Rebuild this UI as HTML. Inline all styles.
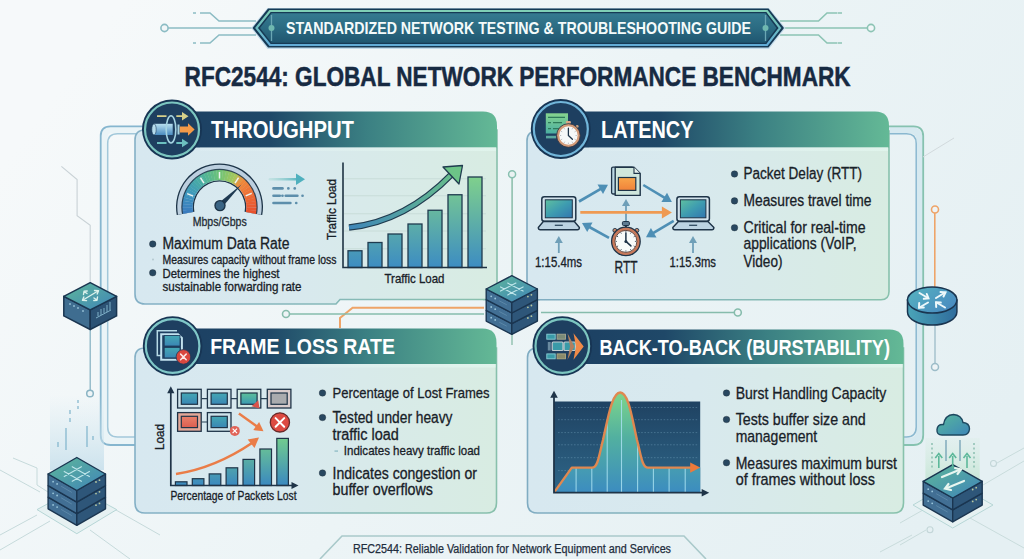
<!DOCTYPE html>
<html><head><meta charset="utf-8">
<style>
html,body{margin:0;padding:0;width:1024px;height:559px;overflow:hidden;background:#eaf1f5;}
svg{display:block;}
text{font-family:"Liberation Sans",sans-serif;}
</style></head>
<body>
<svg width="1024" height="559" viewBox="0 0 1024 559">
<defs>
  <linearGradient id="bgG" x1="0" y1="0.3" x2="1" y2="0.7">
    <stop offset="0" stop-color="#f6f9fa"/>
    <stop offset="0.5" stop-color="#ecf4f6"/>
    <stop offset="1" stop-color="#e5f0f3"/>
  </linearGradient>
  <linearGradient id="hdrG" x1="0" y1="0" x2="1" y2="0">
    <stop offset="0" stop-color="#1c3f62"/>
    <stop offset="0.3" stop-color="#1f4868"/>
    <stop offset="0.6" stop-color="#3b8083"/>
    <stop offset="1" stop-color="#64b996"/>
  </linearGradient>
  <linearGradient id="panelG" x1="0" y1="0" x2="1" y2="0">
    <stop offset="0" stop-color="#d7e8f0"/>
    <stop offset="0.45" stop-color="#d8e9ee"/>
    <stop offset="1" stop-color="#d8ece2"/>
  </linearGradient>
  <linearGradient id="banG" x1="0" y1="0" x2="0" y2="1">
    <stop offset="0" stop-color="#357a90"/>
    <stop offset="0.5" stop-color="#2b6b82"/>
    <stop offset="1" stop-color="#1f5670"/>
  </linearGradient>
  <linearGradient id="spdG" gradientUnits="userSpaceOnUse" x1="270" y1="0" x2="300" y2="0">
    <stop offset="0" stop-color="#8fd0c8" stop-opacity="0.3"/>
    <stop offset="1" stop-color="#4fb0be"/>
  </linearGradient>
  <linearGradient id="arrG" gradientUnits="userSpaceOnUse" x1="349" y1="227" x2="462" y2="166">
    <stop offset="0" stop-color="#3f86b8"/>
    <stop offset="1" stop-color="#6cc487"/>
  </linearGradient>
  <linearGradient id="scrG" x1="0" y1="0" x2="1" y2="1">
    <stop offset="0" stop-color="#5fc0a0"/>
    <stop offset="0.5" stop-color="#3e9cb0"/>
    <stop offset="1" stop-color="#3276b0"/>
  </linearGradient>
  <linearGradient id="orG" x1="0" y1="0" x2="0" y2="1">
    <stop offset="0" stop-color="#f9a64a"/>
    <stop offset="1" stop-color="#f0823a"/>
  </linearGradient>
  <linearGradient id="pkG" x1="0" y1="0" x2="0" y2="1">
    <stop offset="0" stop-color="#44a8b4"/>
    <stop offset="1" stop-color="#3a86b4"/>
  </linearGradient>
  <linearGradient id="pkG3" x1="0" y1="0" x2="0" y2="1">
    <stop offset="0" stop-color="#5cc09a"/>
    <stop offset="1" stop-color="#3a98b0"/>
  </linearGradient>
  <linearGradient id="pkR" x1="0" y1="0" x2="0" y2="1">
    <stop offset="0" stop-color="#e8806a"/>
    <stop offset="1" stop-color="#dc5e50"/>
  </linearGradient>
  <linearGradient id="barG2" gradientUnits="userSpaceOnUse" x1="0" y1="438" x2="0" y2="486">
    <stop offset="0" stop-color="#72cc8e"/>
    <stop offset="1" stop-color="#3a88c0"/>
  </linearGradient>
  <linearGradient id="bbBg" x1="0" y1="0" x2="0" y2="1">
    <stop offset="0" stop-color="#1f4262"/>
    <stop offset="1" stop-color="#2e6688"/>
  </linearGradient>
  <linearGradient id="bbFill" gradientUnits="userSpaceOnUse" x1="0" y1="392" x2="0" y2="493">
    <stop offset="0" stop-color="#7ed68a"/>
    <stop offset="0.45" stop-color="#52b0a0"/>
    <stop offset="1" stop-color="#3c8cc0"/>
  </linearGradient>
  <clipPath id="bbClip"><path d="M554.7 491.6 L571.8 467.6 H592 C598 467.6 599 455 603 440 C608 418 612 392.5 620.2 392.5 C628.5 392.5 632 418 637 440 C641 455 642 467.6 648 467.6 H700.2 V492.7 H554 Z"/></clipPath>
  <linearGradient id="isoTop" x1="0" y1="0" x2="1" y2="1">
    <stop offset="0" stop-color="#5eb89a"/>
    <stop offset="1" stop-color="#3f84b8"/>
  </linearGradient>
  <linearGradient id="glowB" x1="0" y1="0" x2="0" y2="1">
    <stop offset="0" stop-color="#d4e8f0" stop-opacity="0"/>
    <stop offset="1" stop-color="#c8e0ec" stop-opacity="0.9"/>
  </linearGradient>
  <linearGradient id="glowG" x1="0" y1="0" x2="0" y2="1">
    <stop offset="0" stop-color="#d4ecde" stop-opacity="0.2"/>
    <stop offset="1" stop-color="#c2e4d2" stop-opacity="0.9"/>
  </linearGradient>
  <linearGradient id="cloudG" x1="0" y1="0" x2="1" y2="1">
    <stop offset="0" stop-color="#58b89c"/>
    <stop offset="1" stop-color="#3d86b8"/>
  </linearGradient>
  <linearGradient id="rtTop" x1="0" y1="0" x2="1" y2="0.6">
    <stop offset="0" stop-color="#56b4c0"/>
    <stop offset="1" stop-color="#4a8cc0"/>
  </linearGradient>
  <linearGradient id="rtSide" x1="0" y1="0" x2="1" y2="0">
    <stop offset="0" stop-color="#4aa4b8"/>
    <stop offset="1" stop-color="#2f6c9c"/>
  </linearGradient>
  <linearGradient id="pipeG" x1="0" y1="0" x2="0" y2="1">
    <stop offset="0" stop-color="#b8e0f0"/>
    <stop offset="1" stop-color="#4a8cc0"/>
  </linearGradient>
  <linearGradient id="docG" x1="0" y1="0" x2="0" y2="1">
    <stop offset="0" stop-color="#86d48e"/>
    <stop offset="1" stop-color="#4aaea2"/>
  </linearGradient>
  <linearGradient id="pbG1" gradientUnits="userSpaceOnUse" x1="135" y1="0" x2="497" y2="0">
    <stop offset="0" stop-color="#84b0c6"/>
    <stop offset="1" stop-color="#88c0ac"/>
  </linearGradient>
  <linearGradient id="pbG2" gradientUnits="userSpaceOnUse" x1="527" y1="0" x2="903" y2="0">
    <stop offset="0" stop-color="#80acc2"/>
    <stop offset="1" stop-color="#88c2ac"/>
  </linearGradient>
  <linearGradient id="banS" gradientUnits="userSpaceOnUse" x1="0" y1="11" x2="0" y2="44">
    <stop offset="0" stop-color="#80d0b6"/>
    <stop offset="0.5" stop-color="#6cbcc0"/>
    <stop offset="1" stop-color="#62acd6"/>
  </linearGradient>
  <linearGradient id="stripG" x1="0" y1="0" x2="1" y2="0">
    <stop offset="0" stop-color="#e2f0f4" stop-opacity="0.3"/>
    <stop offset="1" stop-color="#e0f4ec" stop-opacity="0.95"/>
  </linearGradient>
  <linearGradient id="barG" gradientUnits="userSpaceOnUse" x1="0" y1="177" x2="0" y2="267">
    <stop offset="0" stop-color="#7fd08c"/>
    <stop offset="1" stop-color="#3d8dc2"/>
  </linearGradient>
</defs>

<!-- background -->
<rect x="0" y="0" width="1024" height="559" fill="url(#bgG)"/>
<!--LINES-->
<g id="lines" fill="none">
<path d="M143 130 H110 Q104.2 130 104.2 140 V431 Q104.2 441 114 441 H135" stroke="#eaf4f7" stroke-width="6.5"/>
<path d="M143 126.3 H110.5 Q100.7 126.3 100.7 136 V435 Q100.7 445 110.5 445 H135" stroke="#86b6cf" stroke-width="1.8"/>
<path d="M143 133.8 H117.5 Q107.7 133.8 107.7 143.5 V427 Q107.7 437 117.5 437 H135" stroke="#a2c8da" stroke-width="1.5"/>
<path d="M888 130 H909.5 Q919.6 130 919.6 140 V431 Q919.6 441 909.5 441 H903" stroke="#d6e9f0" stroke-width="6.5"/>
<path d="M888 126.3 H913.5 Q923.2 126.3 923.2 136 V435 Q923.2 445 913.5 445 H903" stroke="#86c2b0" stroke-width="1.8"/>
<path d="M888 133.8 H906.5 Q916.2 133.8 916.2 143.5 V427 Q916.2 437 906.5 437 H903" stroke="#8ab8d0" stroke-width="1.5"/>
<path d="M61.4 166.3 L77.1 179.6 V215.7 L90.2 225.2 V283" stroke="#c9d2d6" stroke-width="1.1"/>
<path d="M90.2 329 V390" stroke="#8ab4c4" stroke-width="1.3"/>
<circle cx="90" cy="393.5" r="3.3" stroke="#8ab4c4" stroke-width="1.5" fill="#eef4f6"/>
<path d="M512.1 178 V276" stroke="#88bca8" stroke-width="1.5"/>
<circle cx="512.1" cy="174.3" r="3.5" stroke="#88c0b0" stroke-width="1.5" fill="#eaf2f2"/>
<path d="M512 334 V345" stroke="#88bca8" stroke-width="1.3"/>
<path d="M340 328 V318 L352.6 307.8 H484" stroke="#eea468" stroke-width="2"/>
<path d="M289.5 314 H484" stroke="#86bcac" stroke-width="1.6"/>
<circle cx="286" cy="314" r="3.5" stroke="#86bcac" stroke-width="1.6" fill="#eef4f6"/>
<path d="M541 312.5 H734" stroke="#86bcac" stroke-width="1.6"/>
<circle cx="737.8" cy="312.5" r="3.5" stroke="#86bcac" stroke-width="1.6" fill="#eef4f6"/>
<path d="M483 299.4 H497 M527 299.4 H540" stroke="#86b5c3" stroke-width="1.6"/>
<path d="M934.8 213 V290" stroke="#eea468" stroke-width="1.6"/>
<circle cx="935" cy="209.5" r="3.5" stroke="#eea468" stroke-width="1.6" fill="#eef4f6"/>
<path d="M935 322 V363.5" stroke="#9cbcc8" stroke-width="1.3"/>
<circle cx="935" cy="367" r="3.5" stroke="#9cbcc8" stroke-width="1.5" fill="#eef4f6"/>
<path d="M923 157 L954 138" stroke="#d2dadd" stroke-width="1"/>
<g stroke="#c6dadb" stroke-width="1"><path d="M0 470 L40 492"/><path d="M13 458 L37 468 V485 L48 492"/><path d="M0 550 L50 521"/><path d="M0 535 L37 515"/><path d="M116 510 L160 535"/><path d="M90 530 L130 559"/></g>
<g stroke="#c9dcdc" stroke-width="1"><path d="M983 485 L1024 461"/><path d="M997 463 L1024 448"/><path d="M900 523 L923 510"/><path d="M900 545 L926 530"/><path d="M970 518 L1024 548"/><path d="M880 552 L912 535"/></g>
<circle cx="993.5" cy="463.5" r="3" stroke="#c3d6d8" stroke-width="1.1" fill="none"/>
<circle cx="930" cy="529.8" r="3" stroke="#c3d6d8" stroke-width="1.1" fill="none"/>
</g>

<!--/LINES-->

<!-- ===== top banner ===== -->
<g id="banner">
  <path d="M164.5 28 H253 M193 13 H196 M200 13 H210 L219 21 H256 M193 43 H196 M200 43 H210 L219 35 H256" stroke="#8cbcc4" stroke-width="1.6" fill="none"/>
  <circle cx="164.5" cy="28" r="3.6" fill="#f2f6f8" stroke="#8cbcc4" stroke-width="1.6"/>
  <path d="M871 28 H783 M842 13 H838 M837.5 13 H827 L818.5 21 H780 M842 43 H838 M837.5 43 H827 L818.5 35 H780" stroke="#8cc4b4" stroke-width="1.6" fill="none"/>
  <circle cx="871" cy="28" r="3.6" fill="#f2f6f8" stroke="#8cc4b4" stroke-width="1.6"/>
  <path d="M251 28 L267.5 8 H769 L785.5 28 L769 49 H267.5 Z" fill="#c4dceb"/>
  <path d="M252.5 28 L268 8.5 H768.5 L784 28 L768.5 47.5 H268 Z" fill="#163a55"/>
  <path d="M256.5 28 L270 11 H767 L780 28 L767 45 H270 Z" fill="none" stroke="url(#banS)" stroke-width="2.2"/>
  <path d="M260 28 L271.5 13.2 H765.5 L776.5 28 L765.5 42.8 H271.5 Z" fill="url(#banG)"/>
  <line x1="271.5" y1="15" x2="271.5" y2="41" stroke="#6aa6b4" stroke-width="1.3"/>
  <circle cx="271.5" cy="28" r="3" fill="#6fb8b0"/>
  <line x1="765.5" y1="15" x2="765.5" y2="41" stroke="#6aa6b4" stroke-width="1.3"/>
  <circle cx="765.5" cy="28" r="3" fill="#6fb8b0"/>
  <text x="286" y="33.6" font-size="16.3" font-weight="bold" fill="#f4fbfb" textLength="465" lengthAdjust="spacingAndGlyphs">STANDARDIZED NETWORK TESTING &amp; TROUBLESHOOTING GUIDE</text>
</g>

<!-- title -->
<text x="184.6" y="85.5" font-size="27" font-weight="bold" fill="#172a42" stroke="#172a42" stroke-width="0.5" textLength="666" lengthAdjust="spacingAndGlyphs">RFC2544: GLOBAL NETWORK PERFORMANCE BENCHMARK</text>

<!-- ===== panels ===== -->
<g id="panels">
  <!-- throughput -->
  <path d="M145 130 H497 V291.5 Q497 299.5 489 299.5 H340 L336 304 H145 Q135 304 135 294 V140 Q135 130 145 130 Z" fill="url(#panelG)" stroke="url(#pbG1)" stroke-width="1.6"/>
  <path d="M172 111.5 H483 Q497 111.5 497 125.5 V147.5 H172 Z" fill="url(#hdrG)"/>
  <!-- latency -->
  <path d="M537 131 H889 V291.5 Q889 299.7 881 299.7 H537 Q527 299.7 527 289.7 V141 Q527 131 537 131 Z" fill="url(#panelG)" stroke="url(#pbG2)" stroke-width="1.6"/>
  <path d="M561 111.5 H875 Q889 111.5 889 125.5 V147.5 H561 Z" fill="url(#hdrG)"/>
  <!-- frame loss -->
  <path d="M145 348 H496.5 V503 Q496.5 513 486.5 513 H145 Q135 513 135 503 V358 Q135 348 145 348 Z" fill="url(#panelG)" stroke="url(#pbG1)" stroke-width="1.6"/>
  <path d="M172 328.5 H482.5 Q496.5 328.5 496.5 342.5 V364 H172 Z" fill="url(#hdrG)"/>
  <!-- back to back -->
  <path d="M537.5 348 H903.5 V503 Q903.5 513 893.5 513 H537.5 Q527.5 513 527.5 503 V358 Q527.5 348 537.5 348 Z" fill="url(#panelG)" stroke="url(#pbG2)" stroke-width="1.6"/>
  <path d="M562 329.5 H889.5 Q903.5 329.5 903.5 343.5 V364 H562 Z" fill="url(#hdrG)"/>
  <rect x="200" y="147.5" width="296" height="3.5" fill="url(#stripG)"/>
  <rect x="589" y="147.5" width="299" height="3.5" fill="url(#stripG)"/>
  <rect x="200" y="364" width="295.5" height="3.5" fill="url(#stripG)"/>
  <rect x="590" y="364" width="312.5" height="3.5" fill="url(#stripG)"/>
</g>

<!--DEV-->
<g id="devices">
<path d="M63.800000000000004 296.3 L90.2 309.9 L90.2 329.5 L63.800000000000004 315.90000000000003 Z" fill="#3f6d90" stroke="#1a3550" stroke-width="1.5" stroke-linejoin="round"/>
<path d="M116.6 296.3 L90.2 309.9 L90.2 329.5 L116.6 315.90000000000003 Z" fill="#2c5274" stroke="#1a3550" stroke-width="1.5" stroke-linejoin="round"/>
<path d="M90.2 282.7 L116.6 296.3 L90.2 309.9 L63.800000000000004 296.3 Z" fill="url(#isoTop)" stroke="#1a3550" stroke-width="1.5" stroke-linejoin="round"/>
<g stroke="#dcf2ec" stroke-width="1.4" fill="none" stroke-linecap="round" stroke-linejoin="round"><path d="M83 300 L98 291"/><path d="M94.5 290.5 L98.5 290.8 L97.2 294"/><path d="M86.5 300.6 L82.5 300.2 L83.8 297"/><path d="M84 291.5 L87 293.5 M83.5 294.5 L84 291.3 L87.2 291"/><path d="M97 300 L94 298 M97.5 297 L97 300.2 L93.8 300.5"/></g>
<g fill="#8fbad0"><circle cx="70" cy="304" r="1"/><circle cx="74" cy="306" r="1"/><circle cx="78" cy="308" r="1"/><circle cx="83" cy="311" r="1"/></g>
<g stroke="#7fb0c8" stroke-width="1"><path d="M96 318 L111 310"/><path d="M98 316 V312 M101 315 V309 M104 313 V308 M107 312 V305 M110 310 V302"/></g>
<path d="M486.2 310.4 L511.8 323.7 L511.8 334.4 L486.2 321.1 Z" fill="#426f94" stroke="#1a3550" stroke-width="1.4" stroke-linejoin="round"/>
<path d="M537.4 310.4 L511.8 323.7 L511.8 334.4 L537.4 321.1 Z" fill="#2e5679" stroke="#1a3550" stroke-width="1.4" stroke-linejoin="round"/>
<circle cx="491.2" cy="317.7" r="0.9" fill="#9cc8dc"/><circle cx="495.2" cy="319.9" r="0.9" fill="#9cc8dc"/>
<line x1="499.2" y1="322.2" x2="506.8" y2="326.2" stroke="#6f9ab8" stroke-width="0.8" opacity="0.7"/>
<circle cx="531.4" cy="316.2" r="0.9" fill="#b8c8a0"/><circle cx="527.9" cy="318.0" r="0.9" fill="#b8c8a0"/>
<path d="M486.2 299.7 L511.8 313.0 L511.8 323.7 L486.2 310.4 Z" fill="#426f94" stroke="#1a3550" stroke-width="1.4" stroke-linejoin="round"/>
<path d="M537.4 299.7 L511.8 313.0 L511.8 323.7 L537.4 310.4 Z" fill="#2e5679" stroke="#1a3550" stroke-width="1.4" stroke-linejoin="round"/>
<circle cx="491.2" cy="307.0" r="0.9" fill="#9cc8dc"/><circle cx="495.2" cy="309.2" r="0.9" fill="#9cc8dc"/>
<line x1="499.2" y1="311.5" x2="506.8" y2="315.5" stroke="#6f9ab8" stroke-width="0.8" opacity="0.7"/>
<circle cx="531.4" cy="305.5" r="0.9" fill="#b8c8a0"/><circle cx="527.9" cy="307.3" r="0.9" fill="#b8c8a0"/>
<path d="M486.2 289.0 L511.8 302.3 L511.8 313.0 L486.2 299.7 Z" fill="#426f94" stroke="#1a3550" stroke-width="1.4" stroke-linejoin="round"/>
<path d="M537.4 289.0 L511.8 302.3 L511.8 313.0 L537.4 299.7 Z" fill="#2e5679" stroke="#1a3550" stroke-width="1.4" stroke-linejoin="round"/>
<circle cx="491.2" cy="296.3" r="0.9" fill="#9cc8dc"/><circle cx="495.2" cy="298.5" r="0.9" fill="#9cc8dc"/>
<line x1="499.2" y1="300.8" x2="506.8" y2="304.8" stroke="#6f9ab8" stroke-width="0.8" opacity="0.7"/>
<circle cx="531.4" cy="294.8" r="0.9" fill="#b8c8a0"/><circle cx="527.9" cy="296.6" r="0.9" fill="#b8c8a0"/>
<path d="M511.8 275.7 L537.4 289.0 L511.8 302.3 L486.2 289.0 Z" fill="url(#isoTop)" stroke="#1a3550" stroke-width="1.4" stroke-linejoin="round"/>
<path d="M515.9 283.1 L500.5 291.1 M507.7 283.1 L523.1 291.1 M523.1 286.9 L507.7 294.9 M500.5 286.9 L515.9 294.9" stroke="#bfe6ea" stroke-width="1.1" stroke-linecap="round" fill="none"/>
<rect x="50" y="395" width="54" height="75" fill="url(#glowB)"/>
<path d="M37 509.6 L76.8 488 L116.7 509.6 L76.8 533.7 Z" fill="#e6f1f2" stroke="#b6d6d6" stroke-width="1"/>
<path d="M48.1 497.2 L76.8 513.7 L76.8 525.3 L48.1 508.8 Z" fill="#426f94" stroke="#1a3550" stroke-width="1.4" stroke-linejoin="round"/>
<path d="M105.5 497.2 L76.8 513.7 L76.8 525.3 L105.5 508.8 Z" fill="#2e5679" stroke="#1a3550" stroke-width="1.4" stroke-linejoin="round"/>
<circle cx="53.1" cy="504.9" r="0.9" fill="#9cc8dc"/><circle cx="57.1" cy="507.1" r="0.9" fill="#9cc8dc"/>
<line x1="61.1" y1="509.4" x2="71.8" y2="515.6" stroke="#6f9ab8" stroke-width="0.8" opacity="0.7"/>
<circle cx="99.5" cy="503.4" r="0.9" fill="#b8c8a0"/><circle cx="96.0" cy="505.2" r="0.9" fill="#b8c8a0"/>
<path d="M48.1 485.6 L76.8 502.1 L76.8 513.7 L48.1 497.2 Z" fill="#426f94" stroke="#1a3550" stroke-width="1.4" stroke-linejoin="round"/>
<path d="M105.5 485.6 L76.8 502.1 L76.8 513.7 L105.5 497.2 Z" fill="#2e5679" stroke="#1a3550" stroke-width="1.4" stroke-linejoin="round"/>
<circle cx="53.1" cy="493.3" r="0.9" fill="#9cc8dc"/><circle cx="57.1" cy="495.5" r="0.9" fill="#9cc8dc"/>
<line x1="61.1" y1="497.8" x2="71.8" y2="504.0" stroke="#6f9ab8" stroke-width="0.8" opacity="0.7"/>
<circle cx="99.5" cy="491.8" r="0.9" fill="#b8c8a0"/><circle cx="96.0" cy="493.6" r="0.9" fill="#b8c8a0"/>
<path d="M48.1 474.0 L76.8 490.5 L76.8 502.1 L48.1 485.6 Z" fill="#426f94" stroke="#1a3550" stroke-width="1.4" stroke-linejoin="round"/>
<path d="M105.5 474.0 L76.8 490.5 L76.8 502.1 L105.5 485.6 Z" fill="#2e5679" stroke="#1a3550" stroke-width="1.4" stroke-linejoin="round"/>
<circle cx="53.1" cy="481.7" r="0.9" fill="#9cc8dc"/><circle cx="57.1" cy="483.9" r="0.9" fill="#9cc8dc"/>
<line x1="61.1" y1="486.2" x2="71.8" y2="492.4" stroke="#6f9ab8" stroke-width="0.8" opacity="0.7"/>
<circle cx="99.5" cy="480.2" r="0.9" fill="#b8c8a0"/><circle cx="96.0" cy="482.0" r="0.9" fill="#b8c8a0"/>
<path d="M76.8 457.5 L105.5 474.0 L76.8 490.5 L48.1 474.0 Z" fill="url(#isoTop)" stroke="#1a3550" stroke-width="1.4" stroke-linejoin="round"/>
<path d="M81.4 466.7 L64.2 476.6 M72.2 466.7 L89.4 476.6 M89.4 471.4 L72.2 481.3 M64.2 471.4 L81.4 481.3" stroke="#bfe6ea" stroke-width="1.1" stroke-linecap="round" fill="none"/>
<g stroke="#7fb4cc" stroke-width="1.2"><path d="M66 428 V450 M70 410 V414 M70 418 V422 M78 400 V403 M78 406 V409 M87 426 V447 M58 442 V447 M93 436 V440"/></g>
<rect x="925.4" y="438" width="54.3" height="45" fill="url(#glowG)"/>
<path d="M913 505 L952.7 482 L993 505 L952.7 528 Z" fill="#e6f1f2" stroke="#b6d6d6" stroke-width="1"/>
<path d="M923.2 493.2 L952.7 509.9 L952.7 521.8 L923.2 505.1 Z" fill="#426f94" stroke="#1a3550" stroke-width="1.4" stroke-linejoin="round"/>
<path d="M982.2 493.2 L952.7 509.9 L952.7 521.8 L982.2 505.1 Z" fill="#2e5679" stroke="#1a3550" stroke-width="1.4" stroke-linejoin="round"/>
<circle cx="928.2" cy="501.1" r="0.9" fill="#9cc8dc"/><circle cx="932.2" cy="503.3" r="0.9" fill="#9cc8dc"/>
<line x1="936.2" y1="505.6" x2="947.7" y2="512.1" stroke="#6f9ab8" stroke-width="0.8" opacity="0.7"/>
<circle cx="976.2" cy="499.6" r="0.9" fill="#b8c8a0"/><circle cx="972.7" cy="501.4" r="0.9" fill="#b8c8a0"/>
<path d="M923.2 481.3 L952.7 498.0 L952.7 509.9 L923.2 493.2 Z" fill="#426f94" stroke="#1a3550" stroke-width="1.4" stroke-linejoin="round"/>
<path d="M982.2 481.3 L952.7 498.0 L952.7 509.9 L982.2 493.2 Z" fill="#2e5679" stroke="#1a3550" stroke-width="1.4" stroke-linejoin="round"/>
<circle cx="928.2" cy="489.2" r="0.9" fill="#9cc8dc"/><circle cx="932.2" cy="491.4" r="0.9" fill="#9cc8dc"/>
<line x1="936.2" y1="493.7" x2="947.7" y2="500.2" stroke="#6f9ab8" stroke-width="0.8" opacity="0.7"/>
<circle cx="976.2" cy="487.7" r="0.9" fill="#b8c8a0"/><circle cx="972.7" cy="489.5" r="0.9" fill="#b8c8a0"/>
<path d="M952.7 464.6 L982.2 481.3 L952.7 498.0 L923.2 481.3 Z" fill="url(#isoTop)" stroke="#1a3550" stroke-width="1.4" stroke-linejoin="round"/>
<g stroke="#e8f6f0" stroke-width="2.2" fill="none" stroke-linecap="round"><path d="M942 477 L959 470"/><path d="M955 468 L961 469.5 L957.5 474"/><path d="M947 488 L964 481"/><path d="M951 490 L945 488.5 L948.5 484"/></g>
<path d="M942 435 Q936.5 435 937 429.5 Q937.5 424 943.5 424.5 Q945 415 953.5 414.5 Q961.5 415 963 422.5 Q969.5 423 969.5 429 Q969 435 963 435 Z" fill="url(#cloudG)" stroke="#1d4860" stroke-width="1.4"/>
<g stroke="#5db89a" stroke-width="1.6" fill="none"><path d="M938.8 468 V456 M952.7 468 V456 M967 468 V456"/><path d="M935.3 458 L938.8 453.5 L942.3 458 M949.2 458 L952.7 453.5 L956.2 458 M963.5 458 L967 453.5 L970.5 458"/></g>
<g stroke="#6a9ab0" stroke-width="1.2"><path d="M946 440 V461 M960 440 V461"/></g>
<g stroke="#80b8a8" stroke-width="1.3" stroke-dasharray="2 2.5"><path d="M932 443 V470 M974 443 V470"/></g>
<path d="M907.5 300 V312 A24.7 13.1 0 0 0 956.9000000000001 312 V300 Z" fill="url(#rtSide)" stroke="#1a3550" stroke-width="1.5"/>
<ellipse cx="932.2" cy="300" rx="24.7" ry="13.1" fill="url(#rtTop)" stroke="#1a3550" stroke-width="1.5"/>
<g stroke="#eef8fa" stroke-width="2" fill="none" stroke-linecap="round"><path d="M919.5 293 L928 298"/><path d="M923.8 298.8 L928.5 298.3 L926.8 294"/><path d="M936 298 L945 292.5"/><path d="M940.5 292 L945.5 292.3 L943.5 296.5"/><path d="M928 302.5 L919.5 307.5"/><path d="M919.2 303 L919 307.8 L923.8 307.5"/><path d="M945 307.5 L936.5 302.5"/><path d="M936.2 307 L936 302.3 L940.8 302.6"/></g>
</g>

<!--/DEV-->
<!-- header circles -->
<g id="circles">
  <circle cx="172" cy="129.5" r="30" fill="#173554"/>
  <circle cx="172" cy="129.5" r="27" fill="#1e3f60" stroke="#7cc6c0" stroke-width="2.2"/>
  <circle cx="560.8" cy="129" r="30" fill="#173554"/>
  <circle cx="560.8" cy="129" r="27" fill="#1e3f60" stroke="#72b6da" stroke-width="2.2"/>
  <circle cx="172.6" cy="346" r="29.8" fill="#173554"/>
  <circle cx="172.6" cy="346" r="26.8" fill="#1e3f60" stroke="#80c8c8" stroke-width="2.2"/>
  <circle cx="562.3" cy="346" r="29.8" fill="#173554"/>
  <circle cx="562.3" cy="346" r="26.8" fill="#1e3f60" stroke="#7cc6c0" stroke-width="2.2"/>
</g>

<!--ICONS-->
<g id="icons">
<path d="M157 116.2 H166.5 M176.3 116.2 H183" stroke="#d6d08a" stroke-width="1.8"/>
<path d="M182 112 L188.5 116.2 L182 120.4 Z" fill="#d6d08a"/>
<path d="M157 143 H166.5 M176.3 143 H183" stroke="#6cc0c0" stroke-width="1.8"/>
<path d="M182 138.8 L188.5 143 L182 147.2 Z" fill="#6cc0c0"/>
<rect x="154" y="123.8" width="18.7" height="11.2" fill="url(#pipeG)"/>
<ellipse cx="154" cy="129.4" rx="2.2" ry="5.6" fill="#b6dcec" stroke="#1d3a5a" stroke-width="0.6"/>
<ellipse cx="171" cy="129.4" rx="4.8" ry="13.6" fill="none" stroke="#a6d4e2" stroke-width="1.6"/>
<rect x="177.5" y="124.5" width="2" height="10" fill="#a6d4e2"/>
<path d="M179.8 126.6 H188 V123.3 L194.6 129.5 L188 135.7 V132.4 H179.8 Z" fill="#f49a48"/>
<rect x="545.8" y="113.3" width="22.2" height="20.2" fill="url(#docG)"/>
<g stroke="#2e7a5a" stroke-width="1.3"><path d="M548 117.3 H565 M548 122.7 H551 M553 122.7 H562 M548 128.6 H551 M553 128.6 H560"/></g>
<rect x="546" y="135.8" width="10" height="2.6" fill="#5aa8a0"/>
<rect x="565.9" y="121" width="5" height="2.8" rx="1" fill="#d8a888"/>
<circle cx="577.1999999999999" cy="126.5" r="1.4" fill="#c8a080"/>
<circle cx="568.4" cy="135.5" r="11.8" fill="#d29a78" stroke="#2a3040" stroke-width="0.8"/>
<circle cx="568.4" cy="135.5" r="9.2" fill="#f6f8f8"/>
<line x1="575.6" y1="135.5" x2="576.8" y2="135.5" stroke="#9aa4ac" stroke-width="0.7"/>
<line x1="574.6" y1="139.1" x2="575.7" y2="139.7" stroke="#9aa4ac" stroke-width="0.7"/>
<line x1="572.0" y1="141.7" x2="572.6" y2="142.8" stroke="#9aa4ac" stroke-width="0.7"/>
<line x1="568.4" y1="142.7" x2="568.4" y2="143.9" stroke="#9aa4ac" stroke-width="0.7"/>
<line x1="564.8" y1="141.7" x2="564.2" y2="142.8" stroke="#9aa4ac" stroke-width="0.7"/>
<line x1="562.2" y1="139.1" x2="561.1" y2="139.7" stroke="#9aa4ac" stroke-width="0.7"/>
<line x1="561.2" y1="135.5" x2="560.0" y2="135.5" stroke="#9aa4ac" stroke-width="0.7"/>
<line x1="562.2" y1="131.9" x2="561.1" y2="131.3" stroke="#9aa4ac" stroke-width="0.7"/>
<line x1="564.8" y1="129.3" x2="564.2" y2="128.2" stroke="#9aa4ac" stroke-width="0.7"/>
<line x1="568.4" y1="128.3" x2="568.4" y2="127.1" stroke="#9aa4ac" stroke-width="0.7"/>
<line x1="572.0" y1="129.3" x2="572.6" y2="128.2" stroke="#9aa4ac" stroke-width="0.7"/>
<line x1="574.6" y1="131.9" x2="575.7" y2="131.3" stroke="#9aa4ac" stroke-width="0.7"/>
<path d="M568.4 135.5 V128.5 M568.4 135.5 L572.4 139.3" stroke="#1f3448" stroke-width="1.3" stroke-linecap="round" fill="none"/>
<path d="M161 355.4 H157.3 V330.8 H177" fill="none" stroke="#b6dae6" stroke-width="1.5"/>
<path d="M161.2 334.2 H178 L181.9 338 V359.8 H161.2 Z" fill="none" stroke="#c2e2ee" stroke-width="2"/>
<rect x="164.2" y="335.5" width="15.8" height="10.5" fill="url(#pkG)" stroke="#1d3a5a" stroke-width="0.8"/>
<rect x="164.2" y="347.5" width="15.8" height="10.4" fill="url(#pkG)" stroke="#1d3a5a" stroke-width="0.8"/>
<circle cx="183.4" cy="356.9" r="7.3" fill="#d9473e" stroke="#1d3a5a" stroke-width="0.8"/>
<path d="M180.6 354.1 L186.2 359.7 M186.2 354.1 L180.6 359.7" stroke="#fbe8e6" stroke-width="1.5" stroke-linecap="round"/>
<rect x="546.8" y="334.2" width="8.4" height="5" fill="#3a9aa8" stroke="#8ad0d8" stroke-width="0.9"/>
<rect x="557.1" y="334.2" width="8.4" height="5" fill="#7a8a78" stroke="#a8a890" stroke-width="0.9"/>
<rect x="546.8" y="353.9" width="8.4" height="4.9" fill="#3a9aa8" stroke="#8ad0d8" stroke-width="0.9"/>
<rect x="557.1" y="353.9" width="8.4" height="4.9" fill="#8a8a6a" stroke="#b0a880" stroke-width="0.9"/>
<rect x="547.8" y="342" width="2.9" height="8.5" fill="#6a8aa0"/>
<rect x="552.2" y="342" width="10.8" height="8.5" rx="1" fill="#3a9aa8" stroke="#c0ccd0" stroke-width="1.2"/>
<rect x="564" y="342" width="11.4" height="8.5" rx="1" fill="#3a9aa8" stroke="#c0ccd0" stroke-width="1.2"/>
<path d="M567.5 333.3 L574.4 346.5 L567.5 359.8 L570 346.5 Z" fill="#b08060"/>
<path d="M573.5 333.3 L583.7 346.5 L573.5 359.8 L576 346.5 Z" fill="#f08a48"/>
</g>

<!--/ICONS-->
<!-- header titles -->
<g fill="#ffffff" font-weight="bold">
  <text x="211" y="138.1" font-size="24" textLength="143" lengthAdjust="spacingAndGlyphs">THROUGHPUT</text>
  <text x="601" y="138.1" font-size="24" textLength="92.5" lengthAdjust="spacingAndGlyphs">LATENCY</text>
  <text x="210.2" y="354.3" font-size="22.5" textLength="184.7" lengthAdjust="spacingAndGlyphs">FRAME LOSS RATE</text>
  <text x="599.4" y="354.7" font-size="22.5" textLength="290.6" lengthAdjust="spacingAndGlyphs">BACK-TO-BACK (BURSTABILITY)</text>
</g>

<!--TP-->
<g id="gauge">
<path d="M176.76 215.08 A43.5 43.5 0 1 1 262.24 215.08 L244.56 211.73 A25.5 25.5 0 1 0 194.44 211.73 Z" fill="#1d3448"/>
<path d="M178.03 214.84 A42.2 42.2 0 1 1 260.97 214.84 L245.83 211.98 A26.8 26.8 0 1 0 193.17 211.98 Z" fill="#bccfdf"/>
<path d="M182.55 213.98 A37.6 37.6 0 0 1 182.06 210.52 L192.82 209.51 A26.8 26.8 0 0 0 193.17 211.98 Z" fill="rgb(58, 124, 190)"/>
<path d="M182.08 210.71 A37.6 37.6 0 0 1 181.90 207.22 L192.70 207.15 A26.8 26.8 0 0 0 192.83 209.65 Z" fill="rgb(58, 128, 190)"/>
<path d="M181.90 207.41 A37.6 37.6 0 0 1 182.03 203.92 L192.79 204.80 A26.8 26.8 0 0 0 192.70 207.29 Z" fill="rgb(59, 132, 190)"/>
<path d="M182.01 204.11 A37.6 37.6 0 0 1 182.44 200.64 L193.09 202.47 A26.8 26.8 0 0 0 192.78 204.94 Z" fill="rgb(59, 136, 190)"/>
<path d="M182.41 200.83 A37.6 37.6 0 0 1 183.14 197.41 L193.59 200.17 A26.8 26.8 0 0 0 193.06 202.60 Z" fill="rgb(60, 140, 190)"/>
<path d="M183.09 197.60 A37.6 37.6 0 0 1 184.13 194.26 L194.29 197.92 A26.8 26.8 0 0 0 193.55 200.30 Z" fill="rgb(60, 145, 190)"/>
<path d="M184.06 194.44 A37.6 37.6 0 0 1 185.38 191.20 L195.18 195.74 A26.8 26.8 0 0 0 194.24 198.05 Z" fill="rgb(60, 149, 190)"/>
<path d="M185.30 191.38 A37.6 37.6 0 0 1 186.90 188.27 L196.26 193.65 A26.8 26.8 0 0 0 195.12 195.87 Z" fill="rgb(62, 153, 186)"/>
<path d="M186.80 188.44 A37.6 37.6 0 0 1 188.67 185.48 L197.52 191.66 A26.8 26.8 0 0 0 196.19 193.77 Z" fill="rgb(64, 157, 181)"/>
<path d="M188.56 185.64 A37.6 37.6 0 0 1 190.68 182.86 L198.95 189.79 A26.8 26.8 0 0 0 197.44 191.78 Z" fill="rgb(66, 160, 177)"/>
<path d="M190.55 183.01 A37.6 37.6 0 0 1 192.91 180.42 L200.54 188.05 A26.8 26.8 0 0 0 198.87 189.90 Z" fill="rgb(68, 164, 172)"/>
<path d="M192.77 180.56 A37.6 37.6 0 0 1 195.34 178.19 L202.28 186.46 A26.8 26.8 0 0 0 200.45 188.15 Z" fill="rgb(70, 168, 168)"/>
<path d="M195.19 178.32 A37.6 37.6 0 0 1 197.96 176.18 L204.15 185.03 A26.8 26.8 0 0 0 202.17 186.55 Z" fill="rgb(72, 172, 164)"/>
<path d="M197.80 176.29 A37.6 37.6 0 0 1 200.75 174.41 L206.14 183.77 A26.8 26.8 0 0 0 204.03 185.11 Z" fill="rgb(74, 176, 159)"/>
<path d="M200.58 174.51 A37.6 37.6 0 0 1 203.68 172.89 L208.23 182.69 A26.8 26.8 0 0 0 206.02 183.84 Z" fill="rgb(79, 179, 153)"/>
<path d="M203.51 172.97 A37.6 37.6 0 0 1 206.74 171.63 L210.40 181.79 A26.8 26.8 0 0 0 208.10 182.75 Z" fill="rgb(85, 182, 147)"/>
<path d="M206.55 171.70 A37.6 37.6 0 0 1 209.89 170.65 L212.65 181.09 A26.8 26.8 0 0 0 210.27 181.84 Z" fill="rgb(90, 185, 141)"/>
<path d="M209.70 170.70 A37.6 37.6 0 0 1 213.12 169.95 L214.95 180.59 A26.8 26.8 0 0 0 212.52 181.13 Z" fill="rgb(96, 188, 135)"/>
<path d="M212.93 169.98 A37.6 37.6 0 0 1 216.40 169.53 L217.29 180.29 A26.8 26.8 0 0 0 214.81 180.61 Z" fill="rgb(101, 191, 128)"/>
<path d="M216.20 169.55 A37.6 37.6 0 0 1 219.70 169.40 L219.64 180.20 A26.8 26.8 0 0 0 217.15 180.30 Z" fill="rgb(107, 194, 122)"/>
<path d="M219.50 169.40 A37.6 37.6 0 0 1 223.00 169.56 L221.99 180.32 A26.8 26.8 0 0 0 219.50 180.20 Z" fill="rgb(115, 196, 117)"/>
<path d="M222.80 169.55 A37.6 37.6 0 0 1 226.27 170.01 L224.32 180.64 A26.8 26.8 0 0 0 221.85 180.30 Z" fill="rgb(126, 197, 111)"/>
<path d="M226.07 169.98 A37.6 37.6 0 0 1 229.49 170.75 L226.62 181.16 A26.8 26.8 0 0 0 224.19 180.61 Z" fill="rgb(137, 197, 106)"/>
<path d="M229.30 170.70 A37.6 37.6 0 0 1 232.63 171.77 L228.86 181.89 A26.8 26.8 0 0 0 226.48 181.13 Z" fill="rgb(148, 198, 100)"/>
<path d="M232.45 171.70 A37.6 37.6 0 0 1 235.67 173.06 L231.03 182.81 A26.8 26.8 0 0 0 228.73 181.84 Z" fill="rgb(158, 199, 95)"/>
<path d="M235.49 172.97 A37.6 37.6 0 0 1 238.59 174.61 L233.11 183.91 A26.8 26.8 0 0 0 230.90 182.75 Z" fill="rgb(169, 199, 90)"/>
<path d="M238.42 174.51 A37.6 37.6 0 0 1 241.36 176.41 L235.08 185.19 A26.8 26.8 0 0 0 232.98 183.84 Z" fill="rgb(198, 175, 77)"/>
<path d="M241.20 176.29 A37.6 37.6 0 0 1 243.96 178.44 L236.93 186.65 A26.8 26.8 0 0 0 234.97 185.11 Z" fill="rgb(227, 150, 65)"/>
<path d="M243.81 178.32 A37.6 37.6 0 0 1 246.37 180.70 L238.65 188.25 A26.8 26.8 0 0 0 236.83 186.55 Z" fill="rgb(239, 136, 59)"/>
<path d="M246.23 180.56 A37.6 37.6 0 0 1 248.58 183.16 L240.22 190.01 A26.8 26.8 0 0 0 238.55 188.15 Z" fill="rgb(239, 131, 58)"/>
<path d="M248.45 183.01 A37.6 37.6 0 0 1 250.56 185.80 L241.64 191.89 A26.8 26.8 0 0 0 240.13 189.90 Z" fill="rgb(239, 125, 57)"/>
<path d="M250.44 185.64 A37.6 37.6 0 0 1 252.30 188.61 L242.88 193.89 A26.8 26.8 0 0 0 241.56 191.78 Z" fill="rgb(238, 119, 56)"/>
<path d="M252.20 188.44 A37.6 37.6 0 0 1 253.78 191.56 L243.94 195.99 A26.8 26.8 0 0 0 242.81 193.77 Z" fill="rgb(238, 114, 55)"/>
<path d="M253.70 191.38 A37.6 37.6 0 0 1 255.01 194.63 L244.81 198.18 A26.8 26.8 0 0 0 243.88 195.87 Z" fill="rgb(237, 109, 54)"/>
<path d="M254.94 194.44 A37.6 37.6 0 0 1 255.96 197.79 L245.48 200.44 A26.8 26.8 0 0 0 244.76 198.05 Z" fill="rgb(236, 104, 53)"/>
<path d="M255.91 197.60 A37.6 37.6 0 0 1 256.62 201.03 L245.96 202.74 A26.8 26.8 0 0 0 245.45 200.30 Z" fill="rgb(236, 100, 51)"/>
<path d="M256.59 200.83 A37.6 37.6 0 0 1 257.00 204.31 L246.23 205.08 A26.8 26.8 0 0 0 245.94 202.60 Z" fill="rgb(235, 95, 50)"/>
<path d="M256.99 204.11 A37.6 37.6 0 0 1 257.10 207.61 L246.30 207.43 A26.8 26.8 0 0 0 246.22 204.94 Z" fill="rgb(234, 91, 48)"/>
<path d="M257.10 207.41 A37.6 37.6 0 0 1 256.90 210.91 L246.15 209.79 A26.8 26.8 0 0 0 246.30 207.29 Z" fill="rgb(233, 86, 47)"/>
<path d="M256.92 210.71 A37.6 37.6 0 0 1 256.41 214.17 L245.81 212.11 A26.8 26.8 0 0 0 246.17 209.65 Z" fill="rgb(232, 82, 45)"/>
<path d="M181.96 214.09 A38.2 38.2 0 1 1 257.04 214.09 L255.86 213.87 A37.0 37.0 0 1 0 183.14 213.87 Z" fill="#1d3448" opacity="0.85"/>
<line x1="193.17" y1="196.09" x2="187.16" y2="193.61" stroke="#eef4f0" stroke-width="1.5"/>
<line x1="203.98" y1="183.10" x2="200.44" y2="177.65" stroke="#eef4f0" stroke-width="1.5"/>
<line x1="219.50" y1="178.50" x2="219.50" y2="172.00" stroke="#eef4f0" stroke-width="1.5"/>
<line x1="235.02" y1="183.10" x2="238.56" y2="177.65" stroke="#eef4f0" stroke-width="1.5"/>
<line x1="245.73" y1="195.86" x2="251.72" y2="193.32" stroke="#eef4f0" stroke-width="1.5"/>
<path d="M221.96 207.60 L241.50 184.50 L218.04 203.60 Z" fill="#1f3a52"/>
<circle cx="220" cy="205.6" r="5" fill="#3a6484" stroke="#1d3448" stroke-width="1.4"/>

</g>
<g id="speed" stroke-linecap="round">
<line x1="270" y1="179.3" x2="297" y2="179.3" stroke="url(#spdG)" stroke-width="2.6"/>
<path d="M296 173.5 L305 179.3 L296 185.1 Z" fill="#4fb0be"/>
<g stroke="#5d8eab" stroke-width="2.6">
<line x1="273.5" y1="188.4" x2="282.5" y2="188.4"/><line x1="288.3" y1="188.4" x2="288.4" y2="188.4"/><line x1="294.7" y1="188.4" x2="294.8" y2="188.4"/>
<line x1="273.5" y1="195.7" x2="279.8" y2="195.7"/><line x1="282.4" y1="195.7" x2="282.5" y2="195.7"/><line x1="285.7" y1="195.7" x2="297.4" y2="195.7"/><line x1="302.5" y1="195.7" x2="302.6" y2="195.7"/>
<line x1="273.5" y1="203" x2="290.4" y2="203"/><line x1="296.2" y1="203" x2="296.3" y2="203"/>
</g></g>
<g id="tpchart">
<line x1="344" y1="178.75" x2="486" y2="178.75" stroke="#c8dcd8" stroke-width="1"/>
<line x1="344" y1="195.75" x2="486" y2="195.75" stroke="#c8dcd8" stroke-width="1"/>
<line x1="344" y1="213.75" x2="486" y2="213.75" stroke="#c8dcd8" stroke-width="1"/>
<line x1="344" y1="231" x2="486" y2="231" stroke="#c8dcd8" stroke-width="1"/>
<line x1="344" y1="248.75" x2="486" y2="248.75" stroke="#c8dcd8" stroke-width="1"/>
<rect x="348" y="250.75" width="14" height="16.75" fill="url(#barG)" stroke="#1f3b4f" stroke-width="1.3"/>
<rect x="368" y="242.5" width="14" height="25.00" fill="url(#barG)" stroke="#1f3b4f" stroke-width="1.3"/>
<rect x="388" y="234" width="14" height="33.50" fill="url(#barG)" stroke="#1f3b4f" stroke-width="1.3"/>
<rect x="408" y="224" width="14" height="43.50" fill="url(#barG)" stroke="#1f3b4f" stroke-width="1.3"/>
<rect x="428" y="210.25" width="14" height="57.25" fill="url(#barG)" stroke="#1f3b4f" stroke-width="1.3"/>
<rect x="448" y="194.75" width="14" height="72.75" fill="url(#barG)" stroke="#1f3b4f" stroke-width="1.3"/>
<rect x="468" y="177" width="14" height="90.50" fill="url(#barG)" stroke="#1f3b4f" stroke-width="1.3"/>
<path d="M343 162.5 V267.5 H487" fill="none" stroke="#1f3344" stroke-width="1.6"/>
<path d="M349 227.5 Q405 222 452 174" fill="none" stroke="#1f3b4f" stroke-width="6.5" stroke-linecap="butt"/>
<path d="M349 227.5 Q405 222 452 174" fill="none" stroke="url(#arrG)" stroke-width="4" stroke-linecap="butt"/>
<path d="M443 167 L462.5 165.5 L459 184 Z" fill="#6cc487" stroke="#1f3b4f" stroke-width="1.3" stroke-linejoin="round"/>
</g>

<!--/TP-->
<!--LAT-->
<g id="latdiag">
<rect x="541.8" y="196.7" width="34.0" height="24.5" rx="2.5" fill="#d3e3ec" stroke="#1f3448" stroke-width="1.5"/><rect x="545.3" y="199.8" width="27.0" height="18" fill="url(#scrG)" stroke="#1f3448" stroke-width="1"/><path d="M543.3 221.5 H574.3 L579.4 227.5 Q579.4 229.8 577.4 229.8 H540.3 Q538.3 229.8 538.3 227.5 Z" fill="#bcd3e2" stroke="#1f3448" stroke-width="1.4" stroke-linejoin="round"/><line x1="554.8" y1="225.3" x2="562.8" y2="225.3" stroke="#2f4a60" stroke-width="1.3"/>
<rect x="676.9" y="196.7" width="32.5" height="24.5" rx="2.5" fill="#d3e3ec" stroke="#1f3448" stroke-width="1.5"/><rect x="680.4" y="199.8" width="25.5" height="18" fill="url(#scrG)" stroke="#1f3448" stroke-width="1"/><path d="M678.4 221.5 H707.9 L713.9 227.5 Q713.9 229.8 711.9 229.8 H674.8 Q672.8 229.8 672.8 227.5 Z" fill="#bcd3e2" stroke="#1f3448" stroke-width="1.4" stroke-linejoin="round"/><line x1="689.15" y1="225.3" x2="697.15" y2="225.3" stroke="#2f4a60" stroke-width="1.3"/>
<path d="M611.6 168.5 Q611.6 167.2 613 167.2 H632 V194 H613 Q611.6 194 611.6 192.6 Z" fill="#bcd8e4" stroke="#1f3448" stroke-width="1.3"/>
<path d="M615.2 167.2 H634 L640.2 173.4 V195.4 H615.2 Z" fill="#cfe6dc" stroke="#1f3448" stroke-width="1.4" stroke-linejoin="round"/>
<path d="M634 167.2 V173.4 H640.2" fill="#e6f2ec" stroke="#1f3448" stroke-width="1.1"/>
<rect x="618.4" y="177.5" width="17.4" height="12.9" fill="url(#orG)" stroke="#1f3448" stroke-width="1.2"/>
<line x1="579.0" y1="201.5" x2="602.5" y2="187.9" stroke="#4e8fb5" stroke-width="2.6"/><path d="M608.0 184.7 L603.0 194.0 L597.5 184.5 Z" fill="#4e8fb5"/>
<line x1="643.3" y1="185.0" x2="666.5" y2="198.8" stroke="#4e8fb5" stroke-width="2.6"/><path d="M671.9 202.0 L661.4 202.1 L667.0 192.7 Z" fill="#4e8fb5"/>
<line x1="673.7" y1="220.8" x2="651.4" y2="234.1" stroke="#4e8fb5" stroke-width="2.6"/><path d="M646.0 237.3 L650.9 228.0 L656.5 237.4 Z" fill="#4e8fb5"/>
<line x1="609.0" y1="237.8" x2="587.5" y2="226.0" stroke="#4e8fb5" stroke-width="2.6"/><path d="M582.0 223.0 L592.5 222.5 L587.2 232.1 Z" fill="#4e8fb5"/>
<line x1="626.0" y1="222.0" x2="626.0" y2="203.9" stroke="#6f9fb8" stroke-width="1.8"/><path d="M626.0 199.0 L630.0 206.0 L622.0 206.0 Z" fill="#6f9fb8"/>
<line x1="558.8" y1="253.0" x2="558.8" y2="240.9" stroke="#6f9fb8" stroke-width="1.8"/><path d="M558.8 236.0 L562.8 243.0 L554.8 243.0 Z" fill="#6f9fb8"/>
<line x1="693.0" y1="253.0" x2="693.0" y2="240.9" stroke="#6f9fb8" stroke-width="1.8"/><path d="M693.0 236.0 L697.0 243.0 L689.0 243.0 Z" fill="#6f9fb8"/>
<line x1="580.3" y1="212.4" x2="664.9" y2="212.4" stroke="#ef9a52" stroke-width="2.8"/><path d="M671.9 212.4 L661.9 218.4 L661.9 206.4 Z" fill="#ef9a52"/>
<rect x="622.4" y="221.5" width="7" height="4" rx="1.2" fill="#5e7c92" stroke="#1f3448" stroke-width="1"/>
<line x1="625.9" y1="225" x2="625.9" y2="228" stroke="#1f3448" stroke-width="2"/>
<circle cx="636.9" cy="230.4" r="2" fill="#c98a6a" stroke="#1f3448" stroke-width="0.9"/>
<circle cx="614.9" cy="230.4" r="2" fill="#c98a6a" stroke="#1f3448" stroke-width="0.9"/>
<circle cx="625.9" cy="241.4" r="14.3" fill="#c8795a" stroke="#1f3448" stroke-width="1.3"/>
<circle cx="625.9" cy="241.4" r="11" fill="#f8fbfa" stroke="#5a4038" stroke-width="0.9"/>
<line x1="634.9" y1="241.4" x2="636.2" y2="241.4" stroke="#3a4a58" stroke-width="0.9"/>
<line x1="633.7" y1="245.9" x2="634.8" y2="246.6" stroke="#3a4a58" stroke-width="0.9"/>
<line x1="630.4" y1="249.2" x2="631.0" y2="250.3" stroke="#3a4a58" stroke-width="0.9"/>
<line x1="625.9" y1="250.4" x2="625.9" y2="251.7" stroke="#3a4a58" stroke-width="0.9"/>
<line x1="621.4" y1="249.2" x2="620.8" y2="250.3" stroke="#3a4a58" stroke-width="0.9"/>
<line x1="618.1" y1="245.9" x2="617.0" y2="246.6" stroke="#3a4a58" stroke-width="0.9"/>
<line x1="616.9" y1="241.4" x2="615.6" y2="241.4" stroke="#3a4a58" stroke-width="0.9"/>
<line x1="618.1" y1="236.9" x2="617.0" y2="236.2" stroke="#3a4a58" stroke-width="0.9"/>
<line x1="621.4" y1="233.6" x2="620.8" y2="232.5" stroke="#3a4a58" stroke-width="0.9"/>
<line x1="625.9" y1="232.4" x2="625.9" y2="231.1" stroke="#3a4a58" stroke-width="0.9"/>
<line x1="630.4" y1="233.6" x2="631.0" y2="232.5" stroke="#3a4a58" stroke-width="0.9"/>
<line x1="633.7" y1="236.9" x2="634.8" y2="236.2" stroke="#3a4a58" stroke-width="0.9"/>
<path d="M625.9 241.4 V232.9 M625.9 241.4 L630.9 245.9" stroke="#1f3448" stroke-width="1.5" stroke-linecap="round" fill="none"/>
<circle cx="625.9" cy="241.4" r="1.5" fill="#1f3448"/>
</g>

<!--/LAT-->
<!--FL-->
<g id="fldiag">
<rect x="175.4" y="481.8" width="11.6" height="3.7" fill="url(#barG2)" stroke="#1f3448" stroke-width="1.2"/>
<rect x="192.3" y="478.7" width="11.6" height="6.8" fill="url(#barG2)" stroke="#1f3448" stroke-width="1.2"/>
<rect x="209.2" y="473.9" width="11.6" height="11.6" fill="url(#barG2)" stroke="#1f3448" stroke-width="1.2"/>
<rect x="226.1" y="467.8" width="11.6" height="17.7" fill="url(#barG2)" stroke="#1f3448" stroke-width="1.2"/>
<rect x="243.0" y="459.4" width="11.6" height="26.1" fill="url(#barG2)" stroke="#1f3448" stroke-width="1.2"/>
<rect x="259.9" y="449" width="11.6" height="36.5" fill="url(#barG2)" stroke="#1f3448" stroke-width="1.2"/>
<rect x="276.8" y="438.4" width="11.6" height="47.1" fill="url(#barG2)" stroke="#1f3448" stroke-width="1.2"/>
<path d="M170.8 392 V485.5 H292" fill="none" stroke="#1f3448" stroke-width="1.7"/>
<path d="M170.8 386.2 L174.4 393.2 L167.2 393.2 Z" fill="#1f3448"/>
<path d="M298.5 485.5 L291.5 489.1 L291.5 481.9 Z" fill="#1f3448"/>
<path d="M201.7 398.6 H207.4 M231 398.6 H237.2 M260.8 398.6 H267.3 M201.7 422 H207.4" stroke="#2a4256" stroke-width="1.2"/>
<rect x="177.6" y="389.3" width="23.6" height="18.7" fill="#cfe3ea" stroke="#1f3448" stroke-width="1.3"/><rect x="181.29999999999998" y="393.0" width="16.200000000000003" height="11.299999999999999" fill="url(#pkG)" stroke="#1f3448" stroke-width="1.2"/>
<rect x="207.4" y="389.3" width="23.6" height="18.7" fill="#cfe3ea" stroke="#1f3448" stroke-width="1.3"/><rect x="211.1" y="393.0" width="16.200000000000003" height="11.299999999999999" fill="url(#pkG)" stroke="#1f3448" stroke-width="1.2"/>
<rect x="237.2" y="389.3" width="23.6" height="18.7" fill="#d2e8e4" stroke="#1f3448" stroke-width="1.3"/><rect x="240.89999999999998" y="393.0" width="16.200000000000003" height="11.299999999999999" fill="url(#pkG3)" stroke="#1f3448" stroke-width="1.2"/>
<rect x="267.3" y="389.3" width="23.6" height="18.7" fill="#d8cccc" stroke="#1f3448" stroke-width="1.3"/><rect x="271.0" y="393.0" width="16.200000000000003" height="11.299999999999999" fill="#a9abae" stroke="#1f3448" stroke-width="1.2"/>
<rect x="177.6" y="412.6" width="23.6" height="18.7" fill="#e4a898" stroke="#1f3448" stroke-width="1.3"/><rect x="181.29999999999998" y="416.3" width="16.200000000000003" height="11.299999999999999" fill="url(#pkR)" stroke="#1f3448" stroke-width="1.2"/>
<rect x="207.4" y="412.6" width="23.6" height="18.7" fill="#cfe3ea" stroke="#1f3448" stroke-width="1.3"/><rect x="211.1" y="416.3" width="16.200000000000003" height="11.299999999999999" fill="url(#pkG)" stroke="#1f3448" stroke-width="1.2"/>
<line x1="238.9" y1="413.5" x2="257" y2="426.5" stroke="#ea7d48" stroke-width="2.4"/>
<path d="M263.5 431.3 L253.3 430.1 L259.1 422.0 Z" fill="#ea7d48"/>
<path d="M176 474 Q215 468 252 443" fill="none" stroke="#ea7d48" stroke-width="2.6"/>
<path d="M259.0 437.5 L254.5 448.0 L247.7 439.4 Z" fill="#ea7d48"/>
<path d="M259.5 408.5 L251.5 406.2 L258.3 400.3 Z" fill="#d9534a"/>
<circle cx="234.8" cy="430.9" r="5" fill="#e06458"/>
<path d="M232.6 428.7 L237 433.1 M237 428.7 L232.6 433.1" stroke="#fff" stroke-width="1.2"/>
<circle cx="279.9" cy="422.4" r="9.6" fill="#dd4a42" stroke="#6a2a2a" stroke-width="1.3"/>
<path d="M275.6 418.1 L284.2 426.7 M284.2 418.1 L275.6 426.7" stroke="#fff" stroke-width="2" stroke-linecap="round"/>
</g>

<!--/FL-->
<!--BB-->
<g id="bbchart">
<rect x="554" y="401.5" width="146.2" height="91.2" fill="url(#bbBg)"/>
<line x1="558" y1="407.5" x2="698" y2="407.5" stroke="#8fc0d8" stroke-width="0.9" stroke-dasharray="1.6 1.6" opacity="0.35"/>
<line x1="558" y1="419.7" x2="698" y2="419.7" stroke="#8fc0d8" stroke-width="0.9" stroke-dasharray="1.6 1.6" opacity="0.35"/>
<line x1="558" y1="432.6" x2="698" y2="432.6" stroke="#8fc0d8" stroke-width="0.9" stroke-dasharray="1.6 1.6" opacity="0.35"/>
<line x1="558" y1="444.8" x2="698" y2="444.8" stroke="#8fc0d8" stroke-width="0.9" stroke-dasharray="1.6 1.6" opacity="0.35"/>
<line x1="558" y1="457.7" x2="698" y2="457.7" stroke="#8fc0d8" stroke-width="0.9" stroke-dasharray="1.6 1.6" opacity="0.35"/>
<line x1="558" y1="470.6" x2="698" y2="470.6" stroke="#8fc0d8" stroke-width="0.9" stroke-dasharray="1.6 1.6" opacity="0.35"/>
<path d="M554.7 491.6 L571.8 467.6 H592 C598 467.6 599 455 603 440 C608 418 612 392.5 620.2 392.5 C628.5 392.5 632 418 637 440 C641 455 642 467.6 648 467.6 H700.2 V492.7 H554 Z" fill="url(#bbFill)"/>
<line x1="576.1" y1="400" x2="576.1" y2="492" stroke="#a8e0f0" stroke-width="1.1" opacity="0.85" clip-path="url(#bbClip)"/>
<line x1="591.8" y1="400" x2="591.8" y2="492" stroke="#a8e0f0" stroke-width="1.1" opacity="0.85" clip-path="url(#bbClip)"/>
<line x1="607.2" y1="400" x2="607.2" y2="492" stroke="#a8e0f0" stroke-width="1.1" opacity="0.85" clip-path="url(#bbClip)"/>
<line x1="621.5" y1="400" x2="621.5" y2="492" stroke="#a8e0f0" stroke-width="1.1" opacity="0.85" clip-path="url(#bbClip)"/>
<line x1="637.6" y1="400" x2="637.6" y2="492" stroke="#a8e0f0" stroke-width="1.1" opacity="0.85" clip-path="url(#bbClip)"/>
<line x1="653.4" y1="400" x2="653.4" y2="492" stroke="#a8e0f0" stroke-width="1.1" opacity="0.85" clip-path="url(#bbClip)"/>
<line x1="669.1" y1="400" x2="669.1" y2="492" stroke="#a8e0f0" stroke-width="1.1" opacity="0.85" clip-path="url(#bbClip)"/>
<line x1="685.2" y1="400" x2="685.2" y2="492" stroke="#a8e0f0" stroke-width="1.1" opacity="0.85" clip-path="url(#bbClip)"/>
<path d="M554.7 491.6 L571.8 467.6 H592 C598 467.6 599 455 603 440 C608 418 612 392.5 620.2 392.5 C628.5 392.5 632 418 637 440 C641 455 642 467.6 648 467.6 H691" fill="none" stroke="#e08850" stroke-width="2.4" stroke-linejoin="round"/>
<path d="M700.2 467.6 L690.2 472.8 L690.2 462.4 Z" fill="#ee7a3a"/>
<path d="M554 396 V492.7 H702" fill="none" stroke="#1f3448" stroke-width="1.8"/>
<path d="M554.0 390.7 L557.8 397.7 L550.2 397.7 Z" fill="#1f3448"/>
<path d="M709.2 492.7 L701.7 496.5 L701.7 488.9 Z" fill="#1f3448"/>
</g>

<!--/BB-->
<!-- ===== body texts ===== -->
<g id="texts" fill="#182128" stroke="#182128" stroke-width="0.3">
  <!-- throughput -->
  <circle cx="152.7" cy="244" r="3.3" fill="#284760"/>
  <text x="162.5" y="249.4" font-size="15.6" textLength="127" lengthAdjust="spacingAndGlyphs">Maximum Data Rate</text>
  <circle cx="153" cy="259.5" r="1" fill="#b4c8d0" stroke="none"/>
  <text x="162.5" y="264" font-size="12.2" textLength="174" lengthAdjust="spacingAndGlyphs">Measures capacity without frame loss</text>
  <circle cx="152.7" cy="272.8" r="3.3" fill="#284760"/>
  <text x="162.5" y="278" font-size="12.2" textLength="117" lengthAdjust="spacingAndGlyphs">Determines the highest</text>
  <text x="162.5" y="291.4" font-size="12.2" textLength="139" lengthAdjust="spacingAndGlyphs">sustainable forwarding rate</text>
  <text x="192.7" y="226" font-size="12.2" textLength="54" lengthAdjust="spacingAndGlyphs" fill="#2a3440">Mbps/Gbps</text>
  <text x="384.5" y="282.5" font-size="12.2" textLength="60" lengthAdjust="spacingAndGlyphs">Traffic Load</text>
  <text transform="translate(336,240) rotate(-90)" x="0" y="0" font-size="12.2" textLength="61" lengthAdjust="spacingAndGlyphs">Traffic Load</text>
  <!-- latency -->
  <circle cx="734.5" cy="174" r="3.3" fill="#284760"/>
  <text x="743.5" y="179.2" font-size="15.8" textLength="118.5" lengthAdjust="spacingAndGlyphs">Packet Delay (RTT)</text>
  <circle cx="734.5" cy="200.9" r="3.3" fill="#284760"/>
  <text x="743.5" y="206" font-size="15.6" textLength="128" lengthAdjust="spacingAndGlyphs">Measures travel time</text>
  <circle cx="734.5" cy="227.7" r="3.3" fill="#284760"/>
  <text x="743.5" y="232.9" font-size="15.7" textLength="122" lengthAdjust="spacingAndGlyphs">Critical for real-time</text>
  <text x="743.5" y="249" font-size="15.7" textLength="113" lengthAdjust="spacingAndGlyphs">applications (VoIP,</text>
  <text x="743.5" y="266.9" font-size="15.7" textLength="39" lengthAdjust="spacingAndGlyphs">Video)</text>
  <text x="535" y="267" font-size="14" textLength="47" lengthAdjust="spacingAndGlyphs">1:15.4ms</text>
  <text x="669.5" y="267" font-size="14" textLength="46.5" lengthAdjust="spacingAndGlyphs">1:15.3ms</text>
  <text x="614.5" y="273" font-size="15.6" textLength="23" lengthAdjust="spacingAndGlyphs">RTT</text>
  <!-- frame loss -->
  <circle cx="322.5" cy="393" r="3.3" fill="#284760"/>
  <text x="332.5" y="398" font-size="15" textLength="157" lengthAdjust="spacingAndGlyphs">Percentage of Lost Frames</text>
  <circle cx="322.5" cy="417.5" r="3.3" fill="#284760"/>
  <text x="332.5" y="423" font-size="16" textLength="120" lengthAdjust="spacingAndGlyphs">Tested under heavy</text>
  <text x="332.5" y="440" font-size="16" textLength="66.3" lengthAdjust="spacingAndGlyphs">traffic load</text>
  <rect x="334.5" y="450.3" width="3.5" height="1.6" fill="#9cc4cc" stroke="none"/>
  <text x="343.8" y="455" font-size="12.8" textLength="136.2" lengthAdjust="spacingAndGlyphs">Indicates heavy traffic load</text>
  <circle cx="322.5" cy="473" r="3.3" fill="#284760"/>
  <text x="332.5" y="478.8" font-size="15.8" textLength="144.5" lengthAdjust="spacingAndGlyphs">Indicates congestion or</text>
  <text x="332.5" y="495" font-size="15.8" textLength="100.5" lengthAdjust="spacingAndGlyphs">buffer overflows</text>
  <text x="170.5" y="500.3" font-size="13.4" textLength="126" lengthAdjust="spacingAndGlyphs">Percentage of Packets Lost</text>
  <text transform="translate(164,450) rotate(-90)" x="0" y="0" font-size="13.2" textLength="26" lengthAdjust="spacingAndGlyphs">Load</text>
  <!-- back to back -->
  <circle cx="726.5" cy="393" r="3.3" fill="#284760"/>
  <text x="735.7" y="398.8" font-size="15.7" textLength="150.5" lengthAdjust="spacingAndGlyphs">Burst Handling Capacity</text>
  <circle cx="726.5" cy="419.5" r="3.3" fill="#284760"/>
  <text x="735.7" y="425.3" font-size="15.7" textLength="130" lengthAdjust="spacingAndGlyphs">Tests buffer size and</text>
  <text x="735.7" y="441.6" font-size="15.7" textLength="81.5" lengthAdjust="spacingAndGlyphs">management</text>
  <circle cx="726.5" cy="462.7" r="3.3" fill="#284760"/>
  <text x="735.7" y="468.5" font-size="15.7" textLength="161.3" lengthAdjust="spacingAndGlyphs">Measures maximum burst</text>
  <text x="735.7" y="484.8" font-size="15.7" textLength="139.3" lengthAdjust="spacingAndGlyphs">of frames without loss</text>
</g>

<!-- footer -->
<path d="M320 559 L342 536 H684 L706 559" fill="none" stroke="#a9c9ca" stroke-width="1.6"/>
<text x="353" y="552.7" font-size="12.3" fill="#1f2d3d" stroke="#1f2d3d" stroke-width="0.25" textLength="318" lengthAdjust="spacingAndGlyphs">RFC2544: Reliable Validation for Network Equipment and Services</text>

</svg>
</body></html>
